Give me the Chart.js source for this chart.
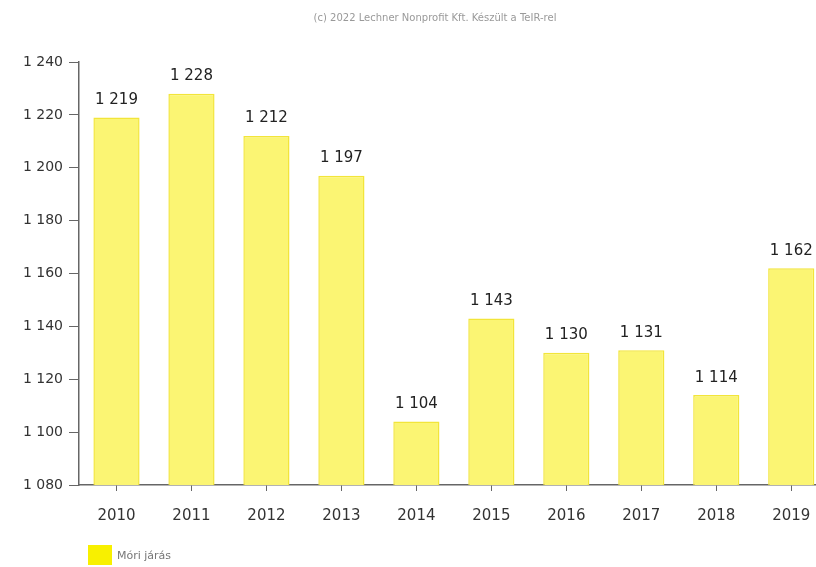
<!DOCTYPE html>
<html>
<head>
<meta charset="utf-8">
<script src="https://cdn.jsdelivr.net/npm/chart.js@4"></script>
<style>
  html, body { margin: 0; padding: 0; background: #fff; }
  #wrap { width: 816px; height: 567px; }
</style>
</head>
<body>
<div id="wrap"><canvas id="chart" width="816" height="567"></canvas></div>
<script>
// data
const years = [2010, 2011, 2012, 2013, 2014, 2015, 2016, 2017, 2018, 2019];
const values = [1219, 1228, 1212, 1197, 1104, 1143, 1130, 1131, 1114, 1162];
const seriesName = 'Móri járás';
const yTicks = [1080, 1100, 1120, 1140, 1160, 1180, 1200, 1220, 1240];
const credit = '(c) 2022 Lechner Nonprofit Kft. Készült a TeIR-rel';

const fmt = v => String(v).replace(/\B(?=(\d{3})+(?!\d))/g, ' ');

// value labels, title and legend
const extras = {
  id: 'extras',
  afterDatasetsDraw(chart) {
    const c = chart.ctx;
    const meta = chart.getDatasetMeta(0);
    c.save();
    c.font = '15px "DejaVu Sans"';
    c.fillStyle = '#222';
    c.textAlign = 'center';
    c.textBaseline = 'bottom';
    meta.data.forEach((bar, i) => {
      c.fillText(fmt(values[i]), bar.x, bar.y - 10);
    });
    // credit line
    c.font = '10px "DejaVu Sans"';
    c.fillStyle = '#999';
    c.textBaseline = 'middle';
    c.fillText(credit, 435, 18);
    // legend
    c.fillStyle = '#f8f000';
    c.fillRect(88, 545, 24, 20);
    c.font = '11px "DejaVu Sans"';
    c.fillStyle = '#777';
    c.textAlign = 'left';
    c.fillText(seriesName, 117, 556);
    c.restore();
  }
};

const ctx = document.getElementById('chart').getContext('2d');
const chart = new Chart(ctx, {
  type: 'bar',
  data: {
    datasets: [{
      label: seriesName,
      data: years.map((y, i) => ({ x: y, y: values[i] })),
      backgroundColor: '#fbf573',
      borderColor: '#f2e53a',
      borderWidth: 1.5,
      barPercentage: 0.77,
      categoryPercentage: 0.8
    }]
  },
  options: {
    responsive: false,
    animation: false,
    layout: { padding: { top: 62, left: 0, right: 0, bottom: 0 } },
    plugins: {
      legend: { display: false },
      tooltip: { enabled: false }
    },
    scales: {
      x: {
        type: 'linear',
        offset: false,
        min: 2009.5,
        max: 2019.33,
        afterBuildTicks: s => { s.ticks = years.map(v => ({ value: v })); },
        afterFit: s => { s.height = 82; s.paddingLeft = 0; s.paddingRight = 0; },
        grid: { drawOnChartArea: false, offset: false, tickLength: 6, color: '#666' },
        border: { color: '#666', width: 1.5 },
        ticks: {
          padding: 16,
          color: '#333',
          font: { family: 'DejaVu Sans', size: 15 },
          callback: v => String(v)
        }
      },
      y: {
        min: 1080,
        max: 1240,
        afterBuildTicks: s => { s.ticks = yTicks.map(v => ({ value: v })); },
        afterFit: s => { s.width = 79; },
        grid: { drawOnChartArea: false, tickLength: 10, color: '#666' },
        border: { color: '#666', width: 1.5 },
        ticks: {
          padding: 6,
          color: '#333',
          font: { family: 'DejaVu Sans', size: 14 },
          callback: v => fmt(v)
        }
      }
    }
  },
  plugins: [extras]
});
</script>
</body>
</html>
